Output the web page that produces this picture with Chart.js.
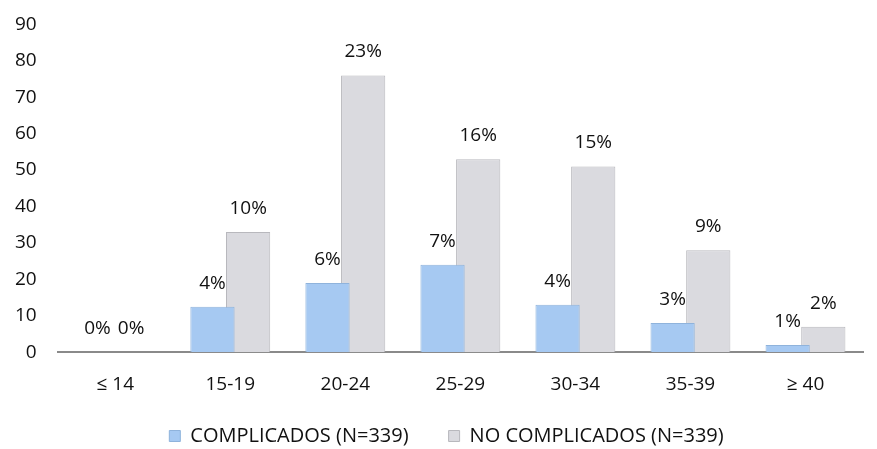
<!DOCTYPE html>
<html>
<head>
<meta charset="utf-8">
<script src="https://cdn.jsdelivr.net/npm/chart.js@4"></script>
<style>
  html, body { margin: 0; padding: 0; background: #fff; }
  #wrap { width: 877px; height: 449px; }
</style>
</head>
<body>
<div id="wrap"><canvas id="chart"></canvas></div>
<script>
// grupos de edad
const categorias = ["≤ 14", "15-19", "20-24", "25-29", "30-34", "35-39", "≥ 40"];
const complicados = [0, 12.5, 19, 24, 13, 8, 2];
const noComplicados = [0, 33, 76, 53, 51, 28, 7];
const pctComplicados = ["0%", "4%", "6%", "7%", "4%", "3%", "1%"];
const pctNoComplicados = ["0%", "10%", "23%", "16%", "15%", "9%", "2%"];
const yTicks = [0, 10, 20, 30, 40, 50, 60, 70, 80, 90];

const fuente = '"Open Sans", sans-serif';

// etiquetas de porcentaje encima de cada barra
const etiquetas = {
    id: 'etiquetas',
    afterDatasetsDraw(chart) {
        const ctx = chart.ctx;
        const textos = [pctComplicados, pctNoComplicados];
        ctx.save();
        ctx.font = '19px ' + fuente;
        ctx.fillStyle = '#111';
        ctx.textAlign = 'center';
        ctx.textBaseline = 'bottom';
        chart.data.datasets.forEach((ds, i) => {
            chart.getDatasetMeta(i).data.forEach((bar, j) => {
                let x = bar.x;
                if (j === 0) x += (i === 0 ? 0 : -2);
                ctx.fillText(textos[i][j], x, bar.y - 14);
            });
        });
        ctx.restore();
    }
};

// la leyenda queda un poco mas abajo y a la derecha
const moverLeyenda = {
    id: 'moverLeyenda',
    afterUpdate(chart) {
        const lg = chart.legend;
        lg.left += 14; lg.right += 14;
        lg.top += 7; lg.bottom += 7;
    }
};

new Chart(document.getElementById('chart'), {
    type: 'bar',
    data: {
        labels: categorias,
        datasets: [{
            label: 'COMPLICADOS (N=339)',
            data: complicados,
            backgroundColor: '#a6c9f2',
            borderColor: '#8fb3dc',
            borderWidth: 1,
            barPercentage: 1.24,
            categoryPercentage: 0.62
        }, {
            label: 'NO COMPLICADOS (N=339)',
            data: noComplicados,
            backgroundColor: '#dadadf',
            borderColor: '#b8b8bd',
            borderWidth: 1,
            barPercentage: 1.24,
            categoryPercentage: 0.62
        }]
    },
    options: {
        responsive: true,
        maintainAspectRatio: false,
        animation: false,
        layout: { padding: { top: 12, right: 14, left: 2, bottom: 0 } },
        plugins: {
            tooltip: { enabled: false },
            legend: {
                position: 'bottom',
                labels: {
                    boxWidth: 11,
                    boxHeight: 11,
                    padding: 10,
                    color: '#111',
                    font: { family: fuente, size: 20 },
                    generateLabels: chart => {
                        const items = Chart.defaults.plugins.legend.labels.generateLabels(chart);
                        items[0].text = items[0].text + '\u2002\u2002\u2002';
                        return items;
                    }
                }
            }
        },
        scales: {
            x: {
                grid: { display: false },
                border: { display: true, color: '#8a8a8a', width: 2 },
                ticks: { color: '#111', padding: 13, font: { family: fuente, size: 19 } }
            },
            y: {
                min: 0,
                max: 90,
                afterBuildTicks: axis => { axis.ticks = yTicks.map(v => ({ value: v })); },
                grid: { display: false },
                border: { display: false },
                ticks: { color: '#111', padding: 13, font: { family: fuente, size: 19 } }
            }
        }
    },
    plugins: [etiquetas, moverLeyenda]
});
</script>
</body>
</html>
